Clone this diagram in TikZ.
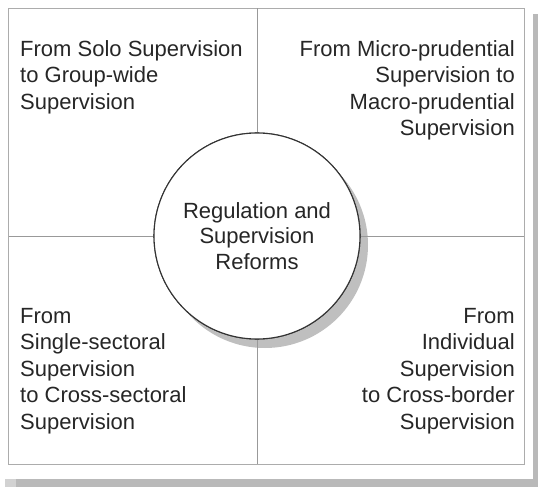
\documentclass[tikz,border=0pt]{standalone}
\usepackage{fontspec}
\setmainfont{Liberation Sans}
\begin{document}
\begin{tikzpicture}[x=1pt,y=-1pt,
  lbl/.style={inner sep=0pt, text=black!85, font=\fontsize{22}{26.5}\selectfont},
  divider/.style={draw=gray!80, line width=0.8pt},
  shadowband/.style={fill=gray!55, draw=none},
  hub/.style={circle, draw=black!80, line width=1.1pt, fill=white, minimum size=206pt, inner sep=0pt, align=center, text=black!85, font=\fontsize{22}{25.5}\selectfont}]
\useasboundingbox (0,0) rectangle (543,489);
% page shadow
\fill[gray!35] (5,479) rectangle (16,487);
\fill[shadowband] (16,479) rectangle (538,487);
\fill[shadowband] (533,14) rectangle (538,487);
% frame
\draw[gray!65, line width=1pt] (8.5,8.5) rectangle (524,464);
% circle shadow
\fill[gray!50] (265,245) circle (103pt);
% named points
\coordinate (top) at (257,8.5);
\coordinate (bot) at (257,464);
\coordinate (lft) at (8.5,236);
\coordinate (rgt) at (524,236);
\node[hub] (c) at (257,236) {Regulation and\\Supervision\\Reforms};
\draw[divider] (top) -- (c.north);
\draw[divider] (c.south) -- (bot);
\draw[divider] (lft) -- (c.west);
\draw[divider] (c.east) -- (rgt);
\node[hub] at (c) {Regulation and\\Supervision\\Reforms};
% quadrant texts
\node[lbl, anchor=north west, align=left] (tl) at (20,40) {From Solo Supervision\\to Group-wide\\Supervision};
\node[lbl, anchor=north east, align=right] (tr) at (515,40) {From Micro-prudential\\Supervision to\\Macro-prudential\\Supervision};
\node[lbl, anchor=north west, align=left] (bl) at (20,308) {From\\Single-sectoral\\Supervision\\to Cross-sectoral\\Supervision};
\node[lbl, anchor=north east, align=right] (br) at (515,308) {From\\Individual\\Supervision\\to Cross-border\\Supervision};
\end{tikzpicture}
\end{document}
